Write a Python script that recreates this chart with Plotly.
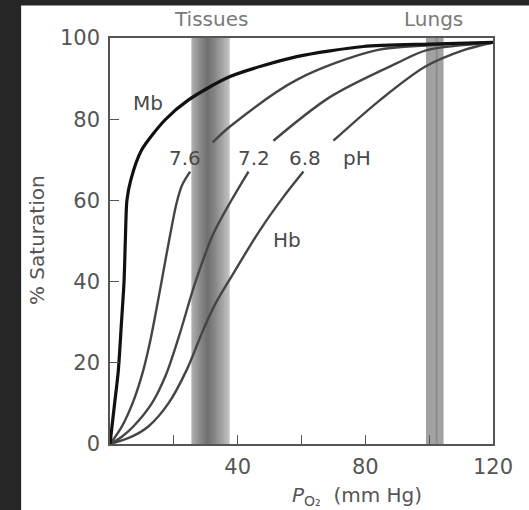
import plotly.graph_objects as go

# ---- data ----
mb_x = [0, 1.3, 2.6, 3.6, 4.4, 4.8, 5.3, 6.5, 9.9, 17.2, 24.5, 37.6, 58.5, 79.4, 100, 120]
mb_y = [0, 9, 18, 30, 40, 50, 60, 65, 72.4, 79.8, 84.7, 90.5, 95.4, 97.9, 98.5, 98.9]

ph76_x = [0, 3.7, 7.3, 10.2, 12.5, 14.5, 16.5, 18.6, 20.9, 22.6, 25.1, None, 32.2, 37.6, 58.5, 83.6, 100, 120]
ph76_y = [0, 4.3, 10.5, 17.5, 25, 33, 41.5, 50.5, 59.5, 63.8, 67.1, None, 74.3, 78.2, 89.7, 97, 98.2, 98.8]

ph72_x = [0, 3.7, 7.3, 13.1, 17.5, 21.6, 26.6, 32.2, 38.1, 43.4, None, 51.2, 69, 89.9, 99.3, 120]
ph72_y = [0, 1.8, 4.3, 10, 17, 26.5, 39.5, 51.5, 60.1, 67.1, None, 74.7, 85.5, 93.8, 97, 98.8]

ph68_x = [0, 6.8, 12, 18.3, 24, 29.2, 33, 38.1, 47, 54, 60.6, None, 70, 84.6, 98.7, 110.8, 120]
ph68_y = [0, 1.8, 4.3, 10, 18.2, 28.1, 34.5, 41.3, 52.7, 60.5, 67.1, None, 74.7, 84.7, 92.9, 97, 98.9]

tissues_band = [25.5, 37.5]
lungs_band = [99.0, 104.5]

x_ticks = [20, 40, 60, 80, 100, 120]
x_ticktext = ["", "40", "", "80", "", "120"]
y_ticks = [0, 20, 40, 60, 80, 100]
y_ticktext = ["0", "20", "40", "60", "80", "100"]

curve_labels = [("Mb", 11.8, 84.0), ("7.6", 23.5, 70.4), ("7.2", 45.0, 70.4),
                ("6.8", 61.0, 70.4), ("pH", 77.3, 70.4), ("Hb", 55.4, 50.2)]
band_labels = [("Tissues", 31.5), ("Lungs", 101.5)]

FONT = "DejaVu Sans, Liberation Sans, sans-serif"

fig = go.Figure()

for xs, ys in [(ph76_x, ph76_y), (ph72_x, ph72_y), (ph68_x, ph68_y)]:
    fig.add_trace(go.Scatter(x=xs, y=ys, mode="lines", connectgaps=False,
                             line=dict(color="#454545", width=2.4, shape="spline", smoothing=0.9),
                             hoverinfo="skip", showlegend=False))
fig.add_trace(go.Scatter(x=mb_x, y=mb_y, mode="lines",
                         line=dict(color="#111111", width=3.2, shape="spline", smoothing=0.7),
                         hoverinfo="skip", showlegend=False))

shapes = []
# dark scan border (left and top)
shapes.append(dict(type="rect", xref="paper", yref="paper", x0=-0.3, x1=-0.232, y0=-0.2, y1=1.2,
                   fillcolor="#262626", line=dict(width=0), layer="below"))
shapes.append(dict(type="rect", xref="paper", yref="paper", x0=-0.3, x1=1.2, y0=1.08, y1=1.2,
                   fillcolor="#262626", line=dict(width=0), layer="below"))

# tissues band: light base with nested translucent layers -> soft dark core
t0, t1 = tissues_band
shapes.append(dict(type="rect", xref="x", yref="y", x0=t0, x1=t1, y0=0, y1=100,
                   fillcolor="#c4c4c4", line=dict(width=0), layer="below"))
centre = t0 + 0.42 * (t1 - t0)
half = (t1 - t0) / 2
k = 14
for i in range(k):
    h = half * (1 - i / k)
    a = max(t0, centre - h)
    b = min(t1, centre + h * 1.1)
    shapes.append(dict(type="rect", xref="x", yref="y", x0=a, x1=b, y0=0, y1=100,
                       fillcolor="rgba(0,0,0,0.035)", line=dict(width=0), layer="below"))
# lungs band
l0, l1 = lungs_band
shapes.append(dict(type="rect", xref="x", yref="y", x0=l0, x1=l1, y0=0, y1=100,
                   fillcolor="#a2a2a2", line=dict(width=0), layer="below"))
shapes.append(dict(type="line", xref="x", yref="y", x0=(l0 + l1) / 2 + 0.6, x1=(l0 + l1) / 2 + 0.6, y0=0, y1=100,
                   line=dict(color="#8c8c8c", width=2), layer="below"))

annotations = []
for txt, x, y in curve_labels:
    annotations.append(dict(x=x, y=y, xref="x", yref="y", text=txt, showarrow=False,
                            xanchor="center", yanchor="middle",
                            font=dict(family=FONT, size=20, color="#4a4a4a")))
for txt, x in band_labels:
    annotations.append(dict(x=x, y=1.0, xref="x", yref="paper", yshift=19, text=txt, showarrow=False,
                            xanchor="center", yanchor="middle",
                            font=dict(family=FONT, size=20, color="#7a7a7a")))
annotations.append(dict(x=(357 - 110) / 383, y=(444 - 496) / 406, xref="paper", yref="paper",
                        text="<i>P</i><sub>O₂</sub>  (mm Hg)", showarrow=False,
                        xanchor="center", yanchor="middle",
                        font=dict(family=FONT, size=20, color="#555555")))
annotations.append(dict(x=(37 - 110) / 383, y=(444 - 240) / 406, xref="paper", yref="paper",
                        text="% Saturation", textangle=-90, showarrow=False,
                        xanchor="center", yanchor="middle",
                        font=dict(family=FONT, size=20, color="#555555")))

fig.update_layout(
    width=529, height=510,
    margin=dict(l=110, r=36, t=38, b=66),
    paper_bgcolor="white", plot_bgcolor="white",
    shapes=shapes, annotations=annotations,
    xaxis=dict(range=[0, 120], tickvals=x_ticks, ticktext=x_ticktext,
               ticks="inside", ticklen=9, tickwidth=1.3, tickcolor="#555",
               showline=True, linecolor="#555", linewidth=1.5, mirror=True,
               showgrid=False, zeroline=False, ticklabelstandoff=3,
               tickfont=dict(family=FONT, size=21, color="#555555")),
    yaxis=dict(range=[0, 100], tickvals=y_ticks, ticktext=y_ticktext,
               ticks="inside", ticklen=9, tickwidth=1.3, tickcolor="#555",
               showline=True, linecolor="#555", linewidth=1.5, mirror=True,
               showgrid=False, zeroline=False, ticklabelstandoff=4,
               tickfont=dict(family=FONT, size=21, color="#555555")),
)

fig.write_html("out.html", config={"displayModeBar": False},
               post_script="document.body.style.margin='0';document.body.style.overflow='hidden';")
